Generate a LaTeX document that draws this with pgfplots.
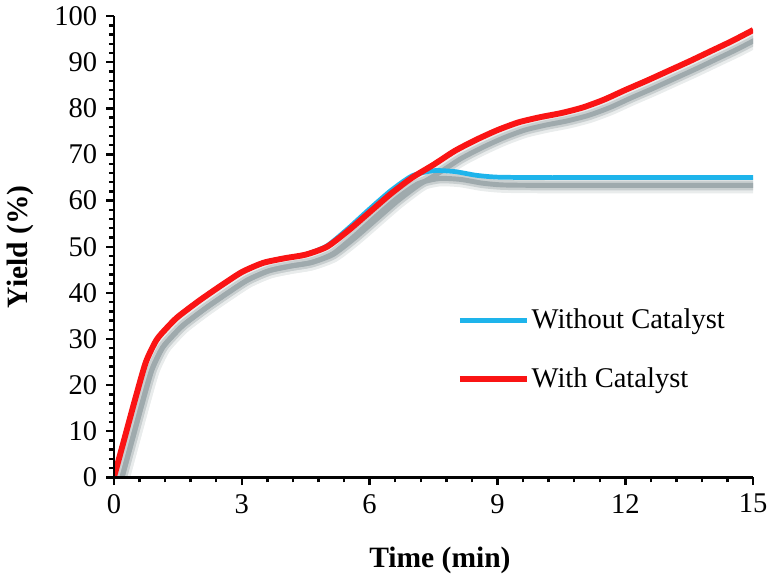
\documentclass[border=0pt]{standalone}
\usepackage{fontspec}
\setmainfont{Liberation Serif}
\usepackage{pgfplots}
\usepackage{pgfplotstable}
\pgfplotsset{compat=1.18}
\definecolor{cred}{RGB}{250,20,20}
\definecolor{cblue}{RGB}{30,180,235}
\definecolor{cshadow}{RGB}{100,118,122}
\definecolor{axblack}{RGB}{3,3,3}
\colorlet{shA}{cshadow!14!white}
\colorlet{shB}{cshadow!35!white}
\colorlet{shC}{cshadow!62!white}
\pgfplotstableread{
t y
0 0
0.25 8.5
0.5 17
0.75 25
1 29.8
1.25 32.5
1.5 34.8
2 38.3
2.5 41.5
3 44.5
3.5 46.5
4 47.5
4.5 48.3
5 50
5.5 53.5
6 57.5
6.5 61.5
7 65
7.5 67.8
8 70.8
8.5 73.2
9 75.3
9.5 77
10 78.1
10.5 79
11 80.2
11.5 81.9
12 84
12.5 86
13 88.1
13.5 90.2
14 92.4
14.5 94.6
15 97
}\withcat
\pgfplotstableread{
t y
0 0
0.25 8.5
0.5 17
0.75 25
1 29.8
1.25 32.5
1.5 34.8
2 38.3
2.5 41.5
3 44.5
3.5 46.5
4 47.5
4.5 48.3
5 50.2
5.5 54
6 58.2
6.5 62.2
7 65.4
7.5 66.5
8 66.3
8.5 65.5
9 65.1
10 65
11 65
12 65
13 65
14 65
15 65
}\withoutcat
\begin{document}
\begin{tikzpicture}
\begin{axis}[
  scale only axis,
  width=324.8pt, height=234.3pt,
  xmin=0, xmax=15, ymin=0, ymax=100,
  axis on top,
  axis x line=bottom, axis y line=left,
  axis line style={-, line width=1.3pt, draw=axblack},
  xtick={0,3,...,15}, ytick={0,10,...,100},
  minor x tick num=4, minor y tick num=4,
  tick align=outside,
  major tick length=4pt, minor tick length=2.5pt,
  major tick style={draw=axblack, line width=1.2pt},
  minor tick style={draw=axblack, line width=1.2pt},
  /pgf/number format/assume math mode=true,
  ticklabel style={font=\fontsize{14.5}{17}\selectfont},
  xticklabel style={yshift=-1pt},
  yticklabel style={xshift=-1pt},
  xlabel={\textbf{Time (min)}},
  ylabel={\textbf{Yield (\%)}},
  every axis x label/.style={at={(axis description cs:0.51,-0.18)}, anchor=center, font=\fontsize{15}{18}\selectfont},
  every axis y label/.style={at={(axis description cs:-0.147,0.5)}, anchor=center, rotate=90, font=\fontsize{15}{18}\selectfont},
  legend style={at={(axis description cs:0.536,0.37)}, anchor=north west, draw=none, fill=none,
    font=\fontsize{14.5}{17}\selectfont, inner sep=0pt, row sep=16pt,
    nodes={inner sep=1pt}},
  legend cell align=left,
  legend image code/.code={\draw[#1] (0pt,0pt) -- (34pt,0pt);},
]
\addplot[shA, line width=8pt, smooth, tension=0.4, forget plot] table[x expr=\thisrow{t}+0.14, y expr=\thisrow{y}-1.7] {\withoutcat};
\addplot[shA, line width=8pt, smooth, tension=0.4, forget plot] table[x expr=\thisrow{t}+0.14, y expr=\thisrow{y}-1.7] {\withcat};
\addplot[shB, line width=5pt, smooth, tension=0.4, forget plot] table[x expr=\thisrow{t}+0.14, y expr=\thisrow{y}-1.7] {\withoutcat};
\addplot[shB, line width=5pt, smooth, tension=0.4, forget plot] table[x expr=\thisrow{t}+0.14, y expr=\thisrow{y}-1.7] {\withcat};
\addplot[shC, line width=2.5pt, smooth, tension=0.4, forget plot] table[x expr=\thisrow{t}+0.14, y expr=\thisrow{y}-1.7] {\withoutcat};
\addplot[shC, line width=2.5pt, smooth, tension=0.4, forget plot] table[x expr=\thisrow{t}+0.14, y expr=\thisrow{y}-1.7] {\withcat};
\addplot[cblue, line width=2.4pt, smooth, tension=0.4] table[x=t,y=y] {\withoutcat};
\addlegendentry{Without Catalyst}
\addplot[cred, line width=3pt, smooth, tension=0.4] table[x=t,y=y] {\withcat};
\addlegendentry{With Catalyst}
\end{axis}
\end{tikzpicture}
\end{document}
